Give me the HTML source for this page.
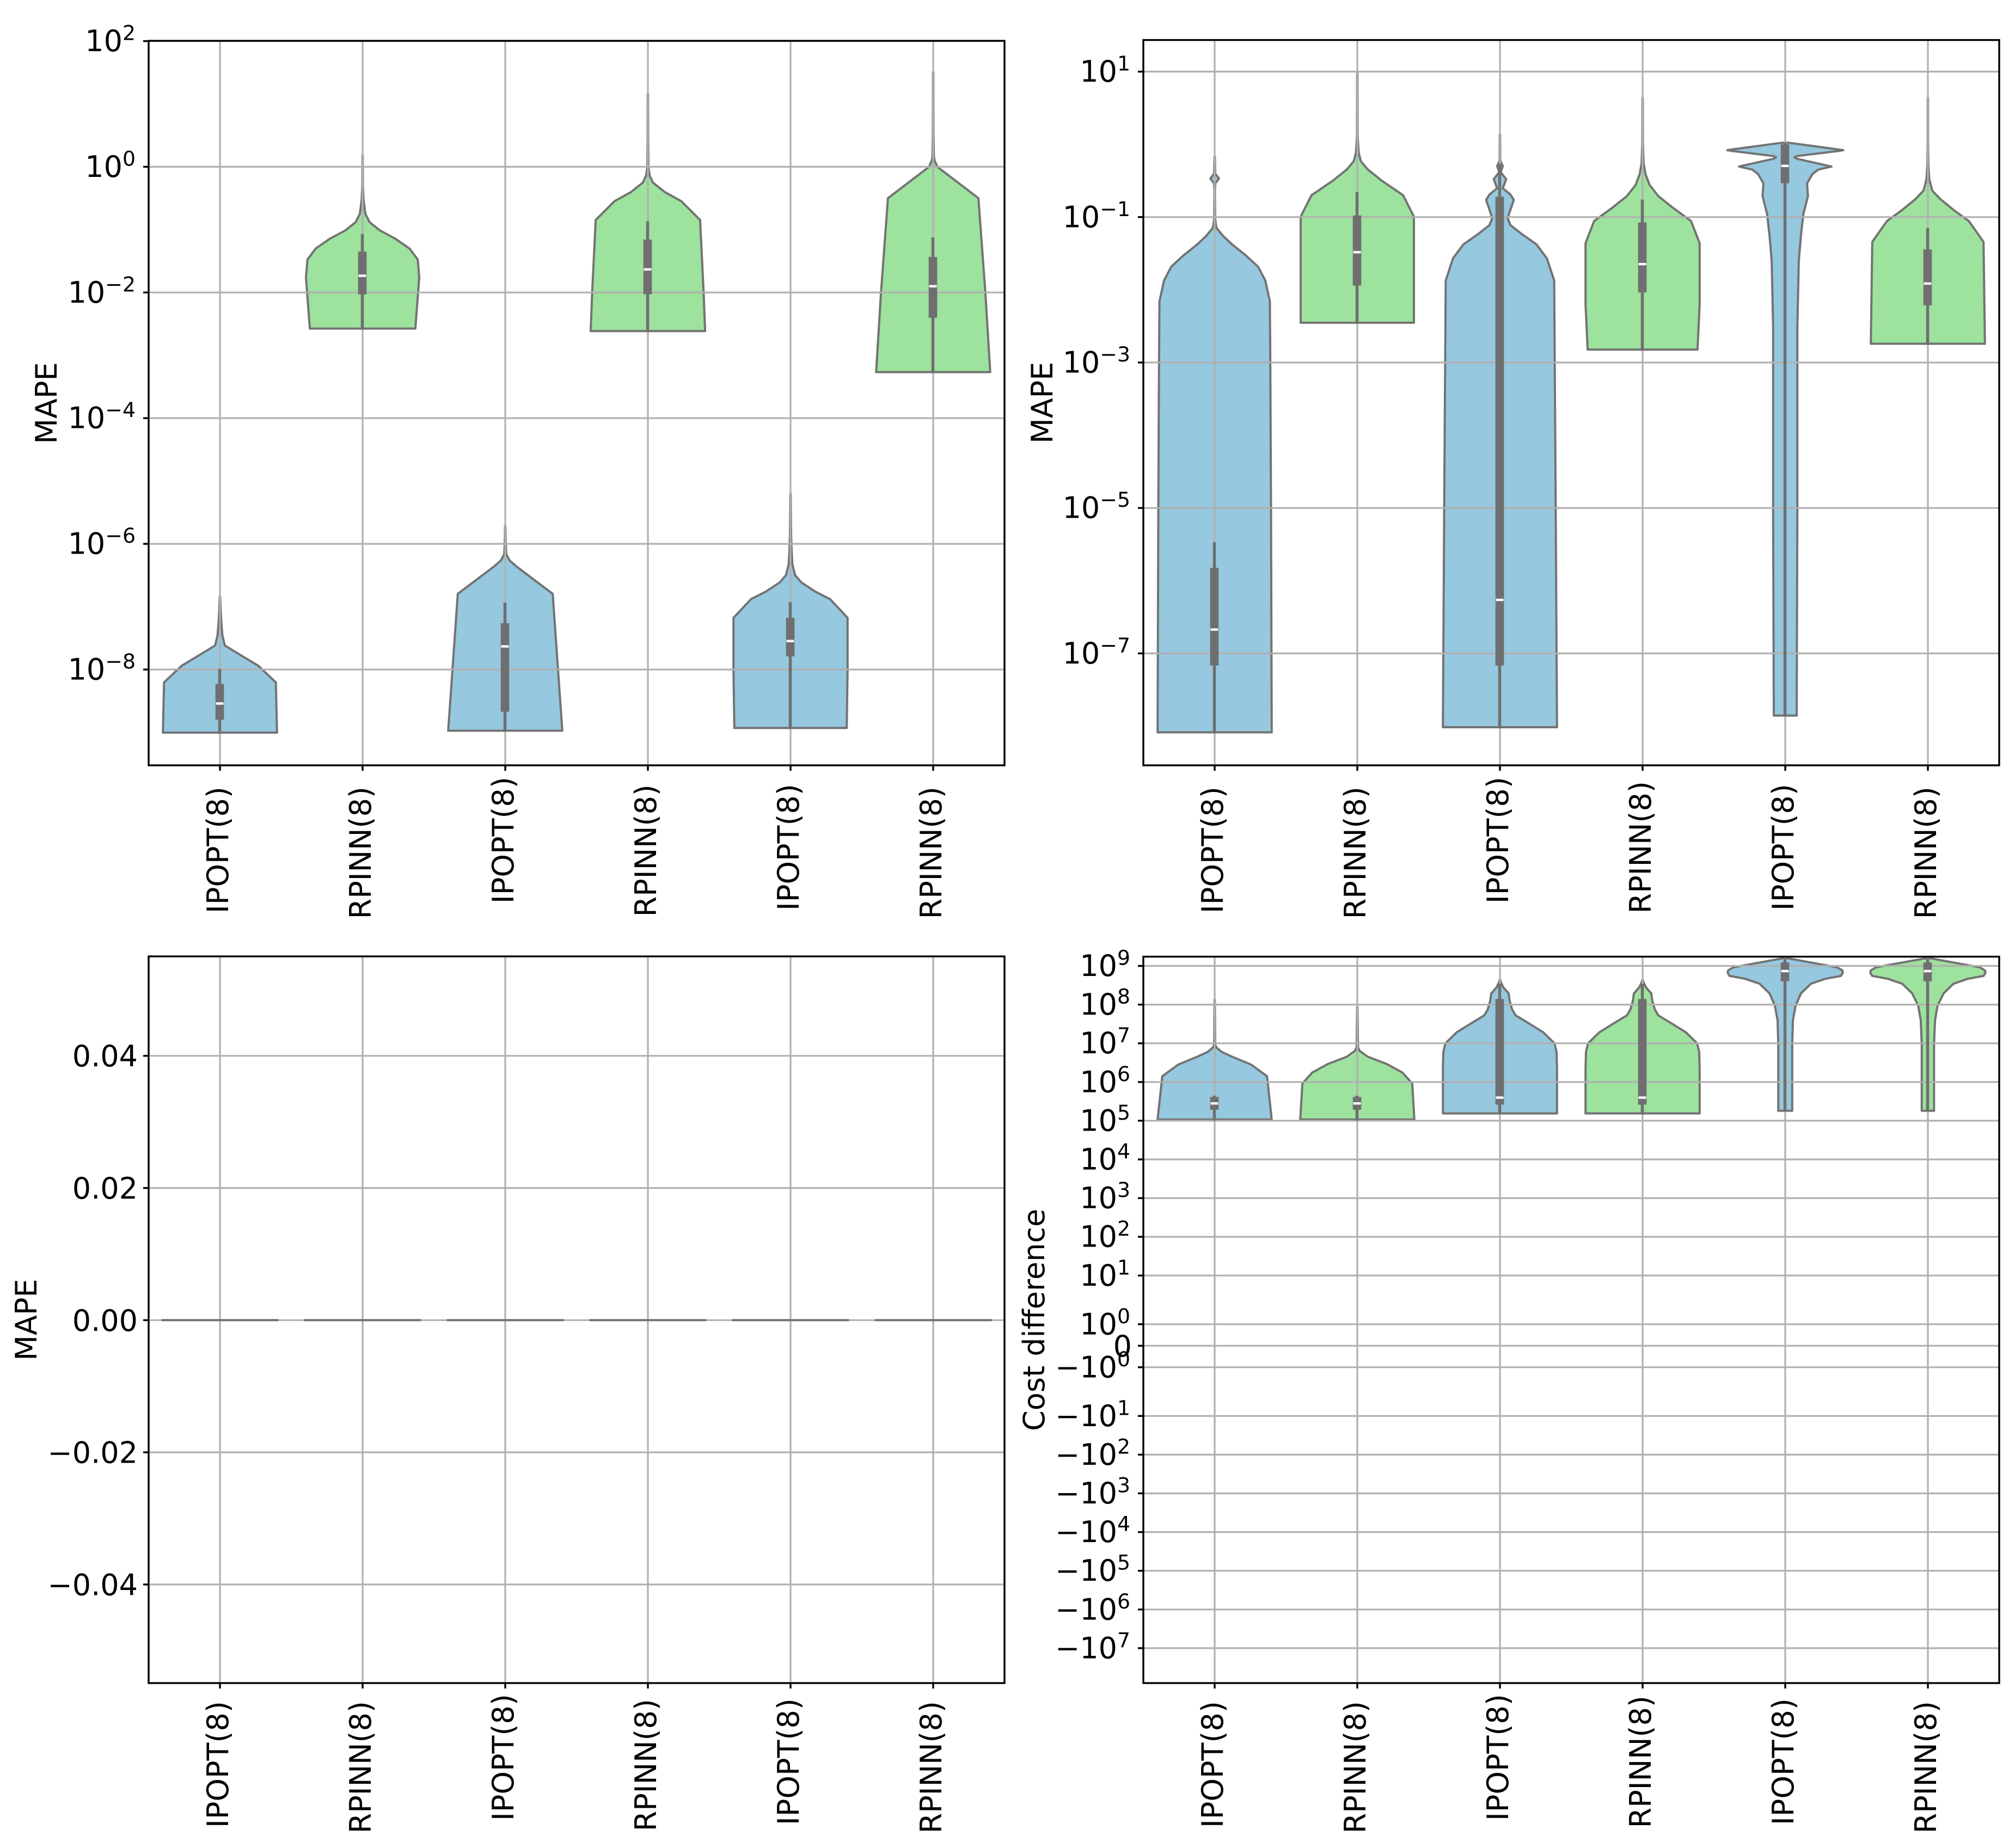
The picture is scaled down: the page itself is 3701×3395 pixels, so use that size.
<!DOCTYPE html>
<html lang="en">
<head>
<meta charset="utf-8">
<title>Violin plots of MAPE and cost difference</title>
<style>
  html, body { margin: 0; padding: 0; background: #fff; }
  svg { display: block; }
  text { font-family: "DejaVu Sans", "Liberation Sans", sans-serif; fill: #000; }
</style>
</head>
<body>
<svg id="figure" xmlns="http://www.w3.org/2000/svg" width="3701" height="3395" viewBox="0 0 3701 3395">
  <rect x="0" y="0" width="3701" height="3395" fill="#ffffff"/>
  <g id="panel-a"></g>
  <g id="panel-b"></g>
  <g id="panel-c"></g>
  <g id="panel-d"></g>
</svg>
<script>
// ---------- Shared categories ----------
const categories = ['IPOPT(8)', 'RPINN(8)', 'IPOPT(8)', 'RPINN(8)', 'IPOPT(8)', 'RPINN(8)'];
const violinColors = ['#96c8df', '#9de29d', '#96c8df', '#9de29d', '#96c8df', '#9de29d'];

// ---------- Top-left panel: [log10 value, half width in category units] ----------
const aTicks = [2, 0, -2, -4, -6, -8];
const aShape1 = [[-9.004,.40],[-8.204,.392],[-7.939,.268],[-7.756,.134],[-7.617,.034],[-7.458,.017],[-7.259,.01],[-7.06,.005],[-6.836,.001]];
const aShape2 = [[-2.574,.37],[-1.765,.397],[-1.478,.387],[-1.301,.329],[-1.147,.231],[-1.014,.122],[-.882,.049],[-.749,.019],[-.528,.007],[-.307,.002],[.18,.001]];
const aShape3 = [[-8.974,.40],[-6.796,.333],[-6.363,.08],[-6.264,.03],[-6.165,.007],[-5.966,.003],[-5.718,.001]];
const aShape4 = [[-2.614,.401],[-2.008,.391],[-.847,.366],[-.549,.235],[-.4,.117],[-.251,.035],[-.135,.012],[-.003,.004],[.429,.002],[1.158,.001]];
const aShape5 = [[-8.93,.394],[-8.006,.40],[-7.177,.40],[-6.88,.277],[-6.759,.172],[-6.614,.076],[-6.499,.032],[-6.326,.013],[-6.123,.008],[-5.834,.004],[-5.2,.001]];
const aShape6 = [[-3.267,.40],[-2.008,.366],[-.5,.317],[-.003,.03],[.097,.01],[.164,.005],[.528,.002],[1.506,.001]];
const aShapes = [aShape1, aShape2, aShape3, aShape4, aShape5, aShape6];
const aWhiskerLow = [-9.004, -2.574, -8.974, -2.614, -8.93, -3.267];
const aQ1 = [-8.80, -2.03, -8.672, -2.028, -7.79, -2.402];
const aMedian = [-8.541, -1.734, -7.632, -1.633, -7.547, -1.901];
const aQ3 = [-8.229, -1.35, -7.264, -1.159, -7.177, -1.435];
const aWhiskerHigh = [-7.99, -1.07, -6.935, -.864, -6.926, -1.123];

// ---------- Top-right panel ----------
const bTicks = [1, -1, -3, -5, -7];
const bShape1 = [[-8.085,.40],[-5,.395],[-3,.39],[-2.159,.387],[-1.872,.355],[-1.681,.304],[-1.528,.219],[-1.376,.122],[-1.261,.06],[-1.147,.012],[-1.032,.004],[-.764,.002],[-.612,.002],[-.535,.005],[-.47,.03],[-.402,.004],[-.165,.001]];
const bShape2 = [[-2.453,.397],[-.994,.397],[-.70,.321],[-.497,.17],[-.344,.073],[-.23,.024],[-.115,.01],[.114,.002],[.992,.001]];
const bShape3 = [[-8.015,.40],[-4.75,.39],[-1.872,.38],[-1.567,.329],[-1.376,.256],[-1.223,.146],[-1.109,.073],[-1.013,.054],[-.764,.097],[-.688,.073],[-.604,.02],[-.478,.044],[-.383,.005],[-.299,.02],[-.222,.002],[.133,.001]];
const bShape4 = [[-2.822,.385],[-2.201,.40],[-1.36,.40],[-1.055,.34],[-.864,.207],[-.711,.11],[-.558,.049],[-.406,.02],[-.253,.007],[.014,.002],[.637,.001]];
const bShape5 = [[-7.855,.08],[-5,.085],[-2.5,.085],[-1.6,.095],[-1.258,.11],[-.959,.127],[-.71,.159],[-.535,.153],[-.41,.19],[-.348,.23],[-.305,.324],[-.198,.083],[-.178,.064],[-.161,.083],[-.09,.38],[-.079,.407],[-.036,.244],[.022,.025]];
const bShape6 = [[-2.742,.40],[-1.341,.39],[-1.055,.287],[-.902,.18],[-.749,.085],[-.635,.03],[-.482,.01],[-.291,.004],[.014,.001],[.637,.001]];
const bShapes = [bShape1, bShape2, bShape3, bShape4, bShape5, bShape6];
const bWhiskerLow = [-8.085, -2.453, -8.015, -2.822, -7.855, -2.742];
const bQ1 = [-7.166, -1.941, -7.166, -2.036, -.535, -2.212];
const bMedian = [-6.672, -1.483, -6.264, -1.647, -.296, -1.914];
const bQ3 = [-5.823, -.978, -.719, -1.074, 0, -1.445];
const bWhiskerHigh = [-5.47, -.657, -.27, -.76, .022, -1.15];

// ---------- Bottom-left panel (all values identical) ----------
const cTicks = [0.04, 0.02, 0, -0.02, -0.04];
const cTickLabels = ['0.04', '0.02', '0.00', '\u22120.02', '\u22120.04'];
const cValues = [0, 0, 0, 0, 0, 0];
const cHalfWidths = [.41, .41, .41, .41, .41, .41];

// ---------- Bottom-right panel ----------
const dTickValues = [1e9, 1e8, 1e7, 1e6, 1e5, 1e4, 1e3, 1e2, 1e1, 1e0, 0, -1e0, -1e1, -1e2, -1e3, -1e4, -1e5, -1e6, -1e7];
const dTickSign = ['', '', '', '', '', '', '', '', '', '', 'zero', '\u2212', '\u2212', '\u2212', '\u2212', '\u2212', '\u2212', '\u2212', '\u2212'];
const dTickPower = [9, 8, 7, 6, 5, 4, 3, 2, 1, 0, 0, 0, 1, 2, 3, 4, 5, 6, 7];
const dShape1 = [[5.032,.40],[6.151,.367],[6.452,.255],[6.654,.122],[6.779,.049],[6.893,.012],[6.968,.004],[8.131,.001]];
const dShape2 = [[5.032,.40],[5.962,.385],[6.245,.316],[6.465,.207],[6.654,.073],[6.811,.015],[6.906,.005],[7.942,.001]];
const dShape3 = [[5.189,.40],[6.339,.40],[6.779,.397],[7.0,.382],[7.282,.304],[7.533,.195],[7.722,.11],[7.88,.085],[8.1,.068],[8.289,.061],[8.445,.024],[8.572,.007],[8.646,.001]];
const dShape4 = [[5.189,.40],[6.339,.40],[6.779,.397],[7.0,.382],[7.282,.304],[7.533,.195],[7.722,.11],[7.88,.085],[8.1,.068],[8.289,.061],[8.445,.024],[8.572,.007],[8.646,.001]];
const dShape5 = [[5.258,.049],[6.968,.049],[7.597,.054],[7.974,.073],[8.289,.11],[8.54,.18],[8.666,.28],[8.741,.39],[8.823,.404],[8.886,.40],[8.961,.365],[9.032,.263],[9.2,.012]];
const dShape6 = [[5.258,.043],[6.968,.043],[7.597,.05],[7.974,.068],[8.289,.11],[8.54,.18],[8.666,.28],[8.741,.39],[8.823,.404],[8.886,.40],[8.961,.365],[9.032,.263],[9.2,.012]];
const dShapes = [dShape1, dShape2, dShape3, dShape4, dShape5, dShape6];
const dWhiskerLow = [5.032, 5.032, 5.189, 5.189, 5.258, 5.258];
const dQ1 = [5.283, 5.283, 5.415, 5.415, 8.603, 8.603];
const dMedian = [5.447, 5.447, 5.597, 5.597, 8.866, 8.866];
const dQ3 = [5.615, 5.615, 8.145, 8.145, 9.088, 9.088];
const dWhiskerHigh = [5.648, 5.648, 8.53, 8.53, 9.2, 9.2];

// ---------- Axis functions ----------
function yA(v) { return 306.4 - 115.45 * Math.log10(v); }
function yB(v) { return 265.2 - 133.6 * Math.log10(v); }
function yC(v) { return 2425.3 - 12140 * v; }
function yD(v) {
  const a = Math.abs(v);
  const s = v < 0 ? -1 : 1;
  const d = a <= 1 ? 39.5 * a : a <= 10 ? 39.5 + 89.5 * Math.log10(a) : 129 + 71.1 * Math.log10(a / 10);
  return 2472.3 - s * d;
}
const FONT = 54;
const COL_GRID = '#b0b0b0';
const COL_EDGE = '#737373';
const COL_BOX = '#6f6f6f';
const GRID_W = 3.2;
const EDGE_W = 4;
const SPINE_W = 3.4;
const NS = 'http://www.w3.org/2000/svg';

function make(tag, attrs, parent) {
  const el = document.createElementNS(NS, tag);
  for (const k in attrs) el.setAttribute(k, attrs[k]);
  parent.appendChild(el);
  return el;
}
function xScale(p, i) { return p.left + (i + 0.5) * (p.right - p.left) / 6; }
function unit(p) { return (p.right - p.left) / 6; }

function drawGrid(p, g, yTickPositions) {
  for (const y of yTickPositions) {
    const line = make('line', { x1: p.left, x2: p.right, y1: y, y2: y, stroke: COL_GRID, 'stroke-width': GRID_W }, g);
    
    
  }
  categories.forEach((c, i) => {
    const x = xScale(p, i);
    const line = make('line', { x1: x, x2: x, y1: p.top, y2: p.bottom, stroke: COL_GRID, 'stroke-width': GRID_W }, g);
    
    
  });
}

function drawViolinBody(p, g, i, shape, y) {
  const cx = xScale(p, i);
  const u = unit(p);
  const right = shape.map(s => (cx + s[1] * u).toFixed(1) + ',' + y(Math.pow(10, s[0])).toFixed(1));
  const left = shape.slice().reverse().map(s => (cx - s[1] * u).toFixed(1) + ',' + y(Math.pow(10, s[0])).toFixed(1));
  const body = make('polygon', { points: right.concat(left).join(' '), fill: violinColors[i], stroke: COL_EDGE, 'stroke-width': EDGE_W, 'stroke-linejoin': 'round' }, g);
  
  
}

function drawBox(p, g, i, y, low, q1, med, q3, high) {
  const cx = xScale(p, i) - 0.5;
  const whisker = make('line', { x1: cx, x2: cx, y1: y(Math.pow(10, high)), y2: y(Math.pow(10, low)) + 2, stroke: COL_BOX, 'stroke-width': 5.5 }, g);
  
  
  const yq3 = y(Math.pow(10, q3));
  const yq1 = y(Math.pow(10, q1));
  const box = make('rect', { x: cx - 7.8, width: 15.6, y: yq3, height: yq1 - yq3, fill: COL_BOX }, g);
  
  
  const median = make('rect', { x: cx - 7, width: 14, y: y(Math.pow(10, med)) - 2.2, height: 4.4, fill: '#ffffff' }, g);
  
  
}

function drawFrame(p, g, yTickPositions) {
  for (const y of yTickPositions) {
    const t = make('line', { x1: p.left - 10, x2: p.left, y1: y, y2: y, stroke: '#000', 'stroke-width': SPINE_W }, g);
    
    
  }
  categories.forEach((c, i) => {
    const x = xScale(p, i);
    const t = make('line', { x1: x, x2: x, y1: p.bottom, y2: p.bottom + 10, stroke: '#000', 'stroke-width': SPINE_W }, g);
    
    
  });
  const frame = make('rect', { x: p.left, y: p.top, width: p.right - p.left, height: p.bottom - p.top, fill: 'none', stroke: '#000', 'stroke-width': SPINE_W }, g);
  
  
}

function drawXLabels(p, g) {
  categories.forEach((c, i) => {
    const x = xScale(p, i) + 15;
    const y = p.labelTop + p.labelShift[i];
    const t = make('text', { x: x, y: y, 'font-size': FONT, 'text-anchor': 'end', transform: 'rotate(-90 ' + x + ' ' + y + ')' }, g);
    t.textContent = c;
    
    
  });
}

function drawYLabel(p, g, text) {
  const y = (p.top + p.bottom) / 2;
  const t = make('text', { x: p.yLabelX, y: y, 'font-size': FONT, 'text-anchor': 'middle', transform: 'rotate(-90 ' + p.yLabelX + ' ' + y + ')' }, g);
  t.textContent = text;
  
  
}

function powerLabel(p, g, y, sign, power) {
  const t = make('text', { x: p.left - 24, y: y + 18.5, 'font-size': FONT, 'text-anchor': 'end' }, g);
  
  
  const base = make('tspan', {}, t);
  base.textContent = sign + '10';
  const sup = make('tspan', { 'font-size': 37.8, dy: -20.5 }, t);
  sup.textContent = String(power).replace('-', '\u2212');
}

function drawLogPanel(p, y, ticks, shapes, low, q1, med, q3, high) {
  const g = document.getElementById(p.id);
  const tickYs = ticks.map(e => y(Math.pow(10, e)));
  shapes.forEach((s, i) => drawViolinBody(p, g, i, s, y));
  drawGrid(p, g, tickYs);
  shapes.forEach((s, i) => drawBox(p, g, i, y, low[i], q1[i], med[i], q3[i], high[i]));
  drawFrame(p, g, tickYs);
  ticks.forEach((e, i) => powerLabel(p, g, tickYs[i], '', e));
  drawXLabels(p, g);
  drawYLabel(p, g, 'MAPE');
}

// ---------- Panels ----------
const panelA = { id: 'panel-a', left: 273, right: 1845, top: 75, bottom: 1406, labelTop: 1445, labelShift: [0, 0, -18, -4, -5, 0], yLabelX: 104 };
const panelB = { id: 'panel-b', left: 2100, right: 3672, top: 73.5, bottom: 1406, labelTop: 1445, labelShift: [0, 0, -18, -10, -5, 0], yLabelX: 1933 };
const panelC = { id: 'panel-c', left: 273, right: 1845, top: 1757, bottom: 3092, labelTop: 3125, labelShift: [0, 0, -13, -4, -5, 0], yLabelX: 67 };
const panelD = { id: 'panel-d', left: 2100, right: 3672, top: 1757.5, bottom: 3092, labelTop: 3125, labelShift: [0, 0, -13, -10, -5, 0], yLabelX: 1918 };

drawLogPanel(panelA, yA, aTicks, aShapes, aWhiskerLow, aQ1, aMedian, aQ3, aWhiskerHigh);
drawLogPanel(panelB, yB, bTicks, bShapes, bWhiskerLow, bQ1, bMedian, bQ3, bWhiskerHigh);

// Bottom-left: degenerate violins collapse to flat lines at the shared value
(function () {
  const p = panelC;
  const g = document.getElementById(p.id);
  const tickYs = cTicks.map(yC);
  drawGrid(p, g, tickYs);
  cValues.forEach((v, i) => {
    const cx = xScale(p, i);
    const hw = cHalfWidths[i] * unit(p);
    const line = make('line', { x1: cx - hw, x2: cx + hw, y1: yC(v), y2: yC(v), stroke: COL_EDGE, 'stroke-width': EDGE_W }, g);
    
    
  });
  drawFrame(p, g, tickYs);
  cTicks.forEach((v, i) => {
    const t = make('text', { x: p.left - 20, y: yC(v) + 19.5, 'font-size': FONT, 'text-anchor': 'end' }, g);
    t.textContent = cTickLabels[i];
    
    
  });
  drawXLabels(p, g);
  drawYLabel(p, g, 'MAPE');
})();

// Bottom-right: symmetric-log cost difference
(function () {
  const p = panelD;
  const g = document.getElementById(p.id);
  const tickYs = dTickValues.map(yD);
  dShapes.forEach((s, i) => drawViolinBody(p, g, i, s, yD));
  drawGrid(p, g, tickYs);
  dShapes.forEach((s, i) => drawBox(p, g, i, yD, dWhiskerLow[i], dQ1[i], dMedian[i], dQ3[i], dWhiskerHigh[i]));
  drawFrame(p, g, tickYs);
  dTickValues.forEach((v, i) => {
    if (dTickSign[i] === 'zero') {
      const t = make('text', { x: p.left - 21, y: tickYs[i] + 19.5, 'font-size': FONT, 'text-anchor': 'end' }, g);
      t.textContent = '0';
      
      
    } else {
      powerLabel(p, g, tickYs[i], dTickSign[i], dTickPower[i]);
    }
  });
  drawXLabels(p, g);
  drawYLabel(p, g, 'Cost difference');
})();
</script>
</body>
</html>
